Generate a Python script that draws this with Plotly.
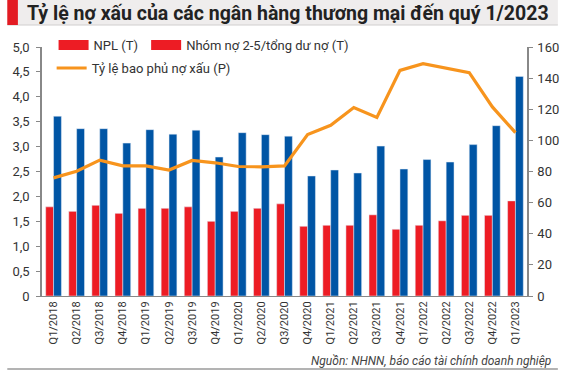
import plotly.graph_objects as go

categories = ["Q1/2018","Q2/2018","Q3/2018","Q4/2018","Q1/2019","Q2/2019","Q3/2019","Q4/2019",
              "Q1/2020","Q2/2020","Q3/2020","Q4/2020","Q1/2021","Q2/2021","Q3/2021","Q4/2021",
              "Q1/2022","Q2/2022","Q3/2022","Q4/2022","Q1/2023"]
npl = [1.79,1.70,1.82,1.66,1.76,1.76,1.79,1.50,1.70,1.76,1.85,1.40,1.42,1.42,1.63,1.34,1.42,1.51,1.62,1.62,1.91]
group2_5 = [3.61,3.36,3.36,3.07,3.34,3.25,3.33,2.79,3.28,3.24,3.21,2.41,2.53,2.47,3.01,2.55,2.74,2.69,3.04,3.42,4.41]
coverage = [75.9,80.2,87.3,83.6,83.6,80.9,87.1,85.6,83.2,83.0,83.6,103.7,109.7,121.1,114.7,145.0,149.3,146.3,143.5,121.5,105.0]

left_ticks = [0,0.5,1,1.5,2,2.5,3,3.5,4,4.5,5]
left_labels = ["0","0,5","1,0","1,5","2,0","2,5","3,0","3,5","4,0","4,5","5,0"]
right_ticks = [0,20,40,60,80,100,120,140,160]

RED = "#ED1C24"
BLUE = "#0055A5"
ORANGE = "#F7941D"
FONT = "Roboto"

W, H = 571, 372
ml, mr, mt, mb = 36, 32, 47, 76
pw, ph = W - ml - mr, H - mt - mb

def px_x(x):
    return (x - ml) / pw

def px_y(y):
    return (H - mb - y) / ph

fig = go.Figure()
fig.add_trace(go.Bar(x=categories, y=npl, marker_color=RED, name="NPL (T)", showlegend=False,
                     offsetgroup="a"))
fig.add_trace(go.Bar(x=categories, y=group2_5, marker_color=BLUE, name="Nhóm nợ 2-5/tổng dư nợ (T)",
                     showlegend=False, offsetgroup="b"))
fig.add_trace(go.Scatter(x=categories, y=coverage, mode="lines", line=dict(color=ORANGE, width=3.2),
                         name="Tỷ lệ bao phủ nợ xấu (P)", yaxis="y2", showlegend=False))
# legend entries (the source legend shows both bar series as red blocks)
fig.add_trace(go.Scatter(x=[None], y=[None], mode="lines", line=dict(color=RED, width=12),
                         name="NPL (T)", legend="legend"))
fig.add_trace(go.Scatter(x=[None], y=[None], mode="lines", line=dict(color=RED, width=12),
                         name="Nhóm nợ 2-5/tổng dư nợ (T)", legend="legend3"))
fig.add_trace(go.Scatter(x=[None], y=[None], mode="lines", line=dict(color=ORANGE, width=3),
                         name="Tỷ lệ bao phủ nợ xấu (P)", legend="legend2"))

axis_font = dict(family=FONT, size=13, color="#333333")
leg_font = dict(family=FONT, size=13, color="#333333")
fig.update_layout(
    width=W, height=H,
    margin=dict(l=ml, r=mr, t=mt, b=mb, pad=0),
    paper_bgcolor="white", plot_bgcolor="white",
    barmode="group", bargap=0.32, bargroupgap=0,
    font=dict(family=FONT, color="#333333"),
    xaxis=dict(categoryorder="array", categoryarray=categories, tickangle=-90,
               tickfont=dict(family=FONT, size=11, color="#333333"),
               showline=True, linecolor="#888888", linewidth=1, ticks="", showgrid=False,
               range=[-0.5, 20.5]),
    yaxis=dict(range=[0, 5], tickvals=left_ticks, ticktext=left_labels, tickfont=axis_font,
               showline=True, linecolor="#888888", linewidth=1.5, ticks="outside", ticklen=4,
               tickcolor="#888888", showgrid=False, zeroline=False, ticklabelstandoff=4),
    yaxis2=dict(range=[0, 160], tickvals=right_ticks, overlaying="y", side="right", tickfont=axis_font,
                showline=True, linecolor="#888888", linewidth=1.5, ticks="outside", ticklen=4,
                tickcolor="#888888", showgrid=False, zeroline=False, ticklabelstandoff=2),
    yaxis3=dict(range=[0, 5], tickvals=left_ticks, overlaying="y", side="left", anchor="x",
                showticklabels=False, ticks="inside", ticklen=4, tickcolor="#888888",
                showline=False, showgrid=False, zeroline=False),
    yaxis4=dict(range=[0, 160], tickvals=right_ticks, overlaying="y", side="right", anchor="x",
                showticklabels=False, ticks="inside", ticklen=4, tickcolor="#888888",
                showline=False, showgrid=False, zeroline=False),
    legend=dict(orientation="h", x=px_x(48), y=px_y(30), xanchor="left", yanchor="top",
                font=leg_font, bgcolor="rgba(0,0,0,0)"),
    legend3=dict(orientation="h", x=px_x(144), y=px_y(30), xanchor="left", yanchor="top",
                 font=leg_font, bgcolor="rgba(0,0,0,0)"),
    legend2=dict(orientation="h", x=px_x(46), y=px_y(53), xanchor="left", yanchor="top",
                 font=leg_font, bgcolor="rgba(0,0,0,0)"),
    shapes=[
        dict(type="rect", xref="paper", yref="paper", x0=px_x(0), x1=px_x(W), y0=px_y(0), y1=px_y(25),
             fillcolor="#EFEDED", line=dict(width=0), layer="below"),
        dict(type="line", xref="paper", yref="paper", x0=px_x(0), x1=px_x(W), y0=px_y(25), y1=px_y(25),
             line=dict(color="#D0CECE", width=1)),
        dict(type="rect", xref="paper", yref="paper", x0=px_x(0), x1=px_x(11), y0=px_y(0), y1=px_y(25),
             fillcolor="#E31B23", line=dict(width=0)),
        dict(type="line", xref="paper", yref="paper", x0=px_x(0), x1=px_x(W), y0=px_y(369), y1=px_y(369),
             line=dict(color="#9A9A9A", width=1.5)),
    ],
    annotations=[
        dict(text="<b>Tỷ lệ nợ xấu của các ngân hàng thương mại đến quý 1/2023</b>", xref="paper", yref="paper",
             x=px_x(18), y=px_y(13), xanchor="left", yanchor="middle", showarrow=False,
             font=dict(family=FONT, size=19.5, color="#222222")),
        dict(text="<i>Nguồn: NHNN, báo cáo tài chính doanh nghiệp</i>", xref="paper", yref="paper",
             x=px_x(566), y=px_y(361), xanchor="right", yanchor="middle", showarrow=False,
             font=dict(family=FONT, size=12, color="#444444")),
    ],
)

fig.write_html("out.html", config={"displayModeBar": False},
               post_script="document.body.style.margin='0';document.body.style.padding='0';")
